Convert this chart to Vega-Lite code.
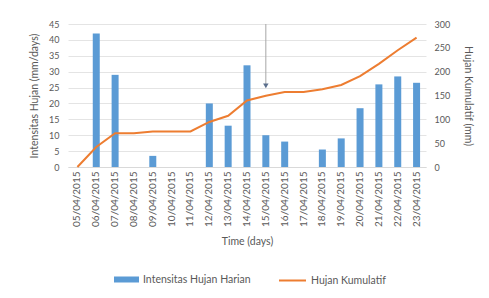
{
  "$schema": "https://vega.github.io/schema/vega-lite/v6.json",
  "width": 358,
  "height": 143,
  "padding": {"left": 29, "top": 20, "right": 5, "bottom": 5},
  "background": "white",
  "config": {
    "font": "Lato",
    "view": {"stroke": null},
    "axis": {
      "labelColor": "#595959",
      "titleColor": "#595959",
      "labelFontSize": 9,
      "titleFontSize": 10.5,
      "titleFontWeight": "normal",
      "ticks": false,
      "domain": false,
      "grid": false
    },
    "legend": {"labelFontSize": 10.5, "labelColor": "#595959", "title": null}
  },
  "data": {
    "values": [
      {"tanggal": "05/04/2015", "intensitas": 0, "kumulatif": 0},
      {"tanggal": "06/04/2015", "intensitas": 42, "kumulatif": 42},
      {"tanggal": "07/04/2015", "intensitas": 29, "kumulatif": 71},
      {"tanggal": "08/04/2015", "intensitas": 0, "kumulatif": 71},
      {"tanggal": "09/04/2015", "intensitas": 3.5, "kumulatif": 74.5},
      {"tanggal": "10/04/2015", "intensitas": 0, "kumulatif": 74.5},
      {"tanggal": "11/04/2015", "intensitas": 0, "kumulatif": 74.5},
      {"tanggal": "12/04/2015", "intensitas": 20, "kumulatif": 94.5},
      {"tanggal": "13/04/2015", "intensitas": 13, "kumulatif": 107.5},
      {"tanggal": "14/04/2015", "intensitas": 32, "kumulatif": 139.5},
      {"tanggal": "15/04/2015", "intensitas": 10, "kumulatif": 149.5},
      {"tanggal": "16/04/2015", "intensitas": 8, "kumulatif": 157.5},
      {"tanggal": "17/04/2015", "intensitas": 0, "kumulatif": 157.5},
      {"tanggal": "18/04/2015", "intensitas": 5.5, "kumulatif": 163},
      {"tanggal": "19/04/2015", "intensitas": 9, "kumulatif": 172},
      {"tanggal": "20/04/2015", "intensitas": 18.5, "kumulatif": 190.5},
      {"tanggal": "21/04/2015", "intensitas": 26, "kumulatif": 216.5},
      {"tanggal": "22/04/2015", "intensitas": 28.5, "kumulatif": 245},
      {"tanggal": "23/04/2015", "intensitas": 26.5, "kumulatif": 271.5}
    ]
  },
  "encoding": {
    "x": {
      "field": "tanggal",
      "type": "ordinal",
      "sort": null,
      "scale": {"paddingInner": 0, "paddingOuter": 0},
      "axis": {
        "title": "Time (days)",
        "labelAngle": -90,
        "labelFontSize": 10,
        "labelPadding": 4,
        "titlePadding": 10,
        "domain": true,
        "domainColor": "#D9D9D9"
      }
    }
  },
  "layer": [
    {
      "encoding": {
        "y": {
          "type": "quantitative",
          "scale": {"domain": [0, 45]},
          "axis": {
            "title": "Intensitas Hujan (mm/days)",
            "values": [0, 5, 10, 15, 20, 25, 30, 35, 40, 45],
            "grid": true,
            "gridColor": "#E4E4E4",
            "labelPadding": 9,
            "titlePadding": 9
          }
        }
      },
      "layer": [
        {
          "mark": {"type": "bar", "width": 7},
          "encoding": {
            "y": {"field": "intensitas", "type": "quantitative"},
            "fill": {
              "datum": "Intensitas Hujan Harian",
              "scale": {"range": ["#5B9BD5"]},
              "legend": {
                "orient": "none",
                "legendX": 46,
                "legendY": 243,
                "symbolType": "M-1,-0.24H1V0.24H-1Z",
                "symbolSize": 625,
                "symbolStrokeWidth": 0
              }
            }
          }
        },
        {
          "data": {"values": [{"tanggal": "15/04/2015", "atas": 45, "ujung": 25.5}]},
          "mark": {"type": "rule", "color": "#A6A6A6", "strokeWidth": 1},
          "encoding": {
            "y": {"field": "atas", "type": "quantitative"},
            "y2": {"field": "ujung"}
          }
        },
        {
          "data": {"values": [{"tanggal": "15/04/2015", "atas": 45, "ujung": 25.5}]},
          "mark": {"type": "point", "shape": "triangle-down", "filled": true, "color": "#5A6E8C", "size": 30, "opacity": 1},
          "encoding": {
            "y": {"field": "ujung", "type": "quantitative"}
          }
        }
      ]
    },
    {
      "mark": {"type": "line", "strokeWidth": 2},
      "encoding": {
        "y": {
          "field": "kumulatif",
          "type": "quantitative",
          "scale": {"domain": [0, 300]},
          "axis": {
            "orient": "right",
            "title": "Hujan Kumulatif (mm)",
            "values": [0, 50, 100, 150, 200, 250, 300],
            "labelPadding": 8,
            "titlePadding": 13
          }
        },
        "stroke": {
          "datum": "Hujan Kumulatif",
          "scale": {"range": ["#ED7D31"]},
          "legend": {
            "orient": "none",
            "legendX": 210,
            "legendY": 242,
            "symbolType": "stroke",
            "symbolSize": 729,
            "symbolStrokeWidth": 2
          }
        }
      }
    }
  ],
  "resolve": {"scale": {"y": "independent", "fill": "independent", "stroke": "independent"}}
}
